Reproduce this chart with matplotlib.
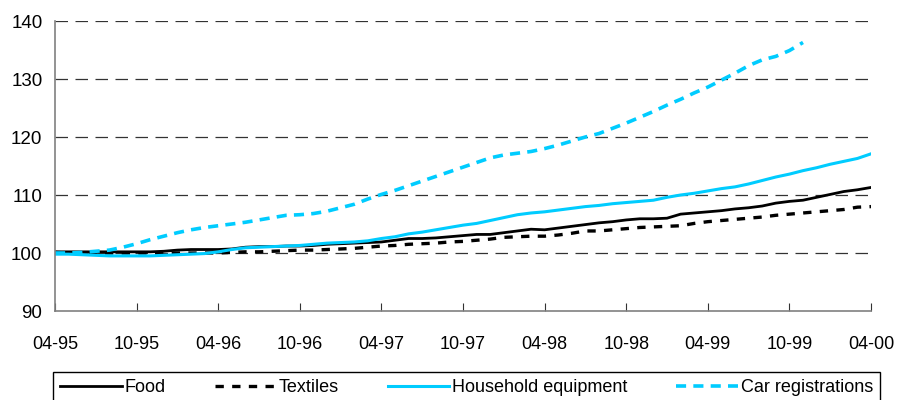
import numpy as np
import matplotlib
matplotlib.use("Agg")
import matplotlib.pyplot as plt

plt.rcParams['font.family'] = ['Liberation Sans', 'DejaVu Sans']

# monthly index, 04-95 .. 04-00
tick_labels = ["04-95", "10-95", "04-96", "10-96", "04-97", "10-97",
               "04-98", "10-98", "04-99", "10-99", "04-00"]

food = [100.2, 100.2, 100.2, 100.2, 100.2, 100.2, 100.2, 100.2, 100.3, 100.5,
        100.6, 100.6, 100.6, 100.7, 101.0, 101.1, 101.1, 101.2, 101.2, 101.3,
        101.5, 101.6, 101.7, 101.8, 101.9, 102.2, 102.5, 102.5, 102.6, 102.8,
        103.0, 103.2, 103.2, 103.5, 103.8, 104.1, 104.0, 104.3, 104.6, 104.9,
        105.2, 105.4, 105.7, 105.9, 105.9, 106.0, 106.7, 106.9, 107.1, 107.3,
        107.6, 107.8, 108.1, 108.6, 108.9, 109.1, 109.6, 110.1, 110.6, 110.9,
        111.3]

textiles = [100.1, 100.0, 100.0, 100.0, 100.0, 100.0, 100.0, 100.0, 100.0, 100.0,
            100.0, 100.0, 100.0, 100.1, 100.2, 100.2, 100.3, 100.4, 100.5, 100.5,
            100.6, 100.7, 100.8, 101.0, 101.2, 101.3, 101.5, 101.6, 101.7, 101.9,
            102.0, 102.2, 102.4, 102.7, 102.8, 102.9, 102.9, 103.1, 103.4, 103.8,
            103.8, 104.0, 104.2, 104.4, 104.5, 104.6, 104.7, 105.1, 105.4, 105.6,
            105.8, 106.0, 106.2, 106.5, 106.7, 106.9, 107.1, 107.3, 107.5, 107.9,
            108.0]

household = [99.8, 99.8, 99.7, 99.6, 99.5, 99.5, 99.5, 99.5, 99.6, 99.7,
             99.8, 99.9, 100.2, 100.6, 100.9, 101.0, 101.1, 101.2, 101.3, 101.5,
             101.7, 101.8, 101.9, 102.1, 102.5, 102.8, 103.3, 103.6, 104.0, 104.4,
             104.8, 105.1, 105.6, 106.1, 106.6, 106.9, 107.1, 107.4, 107.7, 108.0,
             108.2, 108.5, 108.7, 108.9, 109.1, 109.6, 110.0, 110.3, 110.7, 111.1,
             111.4, 111.9, 112.5, 113.1, 113.6, 114.2, 114.7, 115.3, 115.8, 116.3,
             117.1]

cars = [100.0, 100.0, 100.1, 100.3, 100.5, 101.0, 101.6, 102.3, 102.9, 103.5,
        104.0, 104.4, 104.7, 105.0, 105.3, 105.7, 106.1, 106.5, 106.6, 106.8,
        107.2, 107.8, 108.4, 109.3, 110.1, 110.8, 111.6, 112.4, 113.2, 114.0,
        114.8, 115.6, 116.4, 116.9, 117.2, 117.5, 118.0, 118.6, 119.3, 120.0,
        120.6, 121.5, 122.4, 123.4, 124.4, 125.5, 126.5, 127.6, 128.6, 129.8,
        131.0, 132.3, 133.3, 133.9, 134.9, 136.3]

cyan = "#00CCFF"

fig = plt.figure(figsize=(8.98, 4.0), dpi=100)
ax = fig.add_axes([55/898, 1-311/400, 816/898, 290/400])

ax.plot(np.arange(len(food)), food, color="black", lw=2, label="Food")
ax.plot(np.arange(len(textiles)), textiles, color="black", lw=2.4,
        ls=(0, (2.5, 2.5)), label="Textiles")
ax.plot(np.arange(len(household)), household, color=cyan, lw=2.2,
        label="Household equipment")
ax.plot(np.arange(len(cars)), cars, color=cyan, lw=2.6,
        ls=(0, (2.8, 2.0)), label="Car registrations")

ax.set_xlim(0, 60)
ax.set_ylim(90, 140)
ax.set_yticks(range(90, 141, 10))
ax.set_xticks(range(0, 61, 6))
ax.set_xticklabels(tick_labels)

for y in range(100, 141, 10):
    ax.axhline(y, color="#333333", lw=0.9, ls=(0, (10, 6)), zorder=0)

for s in ["top", "right"]:
    ax.spines[s].set_visible(False)
for s in ["left", "bottom"]:
    ax.spines[s].set_color("#808080")
    ax.spines[s].set_linewidth(1.2)

ax.tick_params(axis="x", direction="in", length=6, color="#333333",
               pad=18, labelsize=13)
ax.tick_params(axis="y", length=0, pad=9, labelsize=13.5)

fig.legend(loc="upper left", bbox_to_anchor=(53/898, 0.07, 827/898, 0),
           mode="expand", ncol=4, fontsize=13, frameon=True,
           fancybox=False, edgecolor="black", framealpha=1,
           handlelength=3.4, handletextpad=0.15, borderaxespad=0)

fig.savefig("out.png", dpi=100)
